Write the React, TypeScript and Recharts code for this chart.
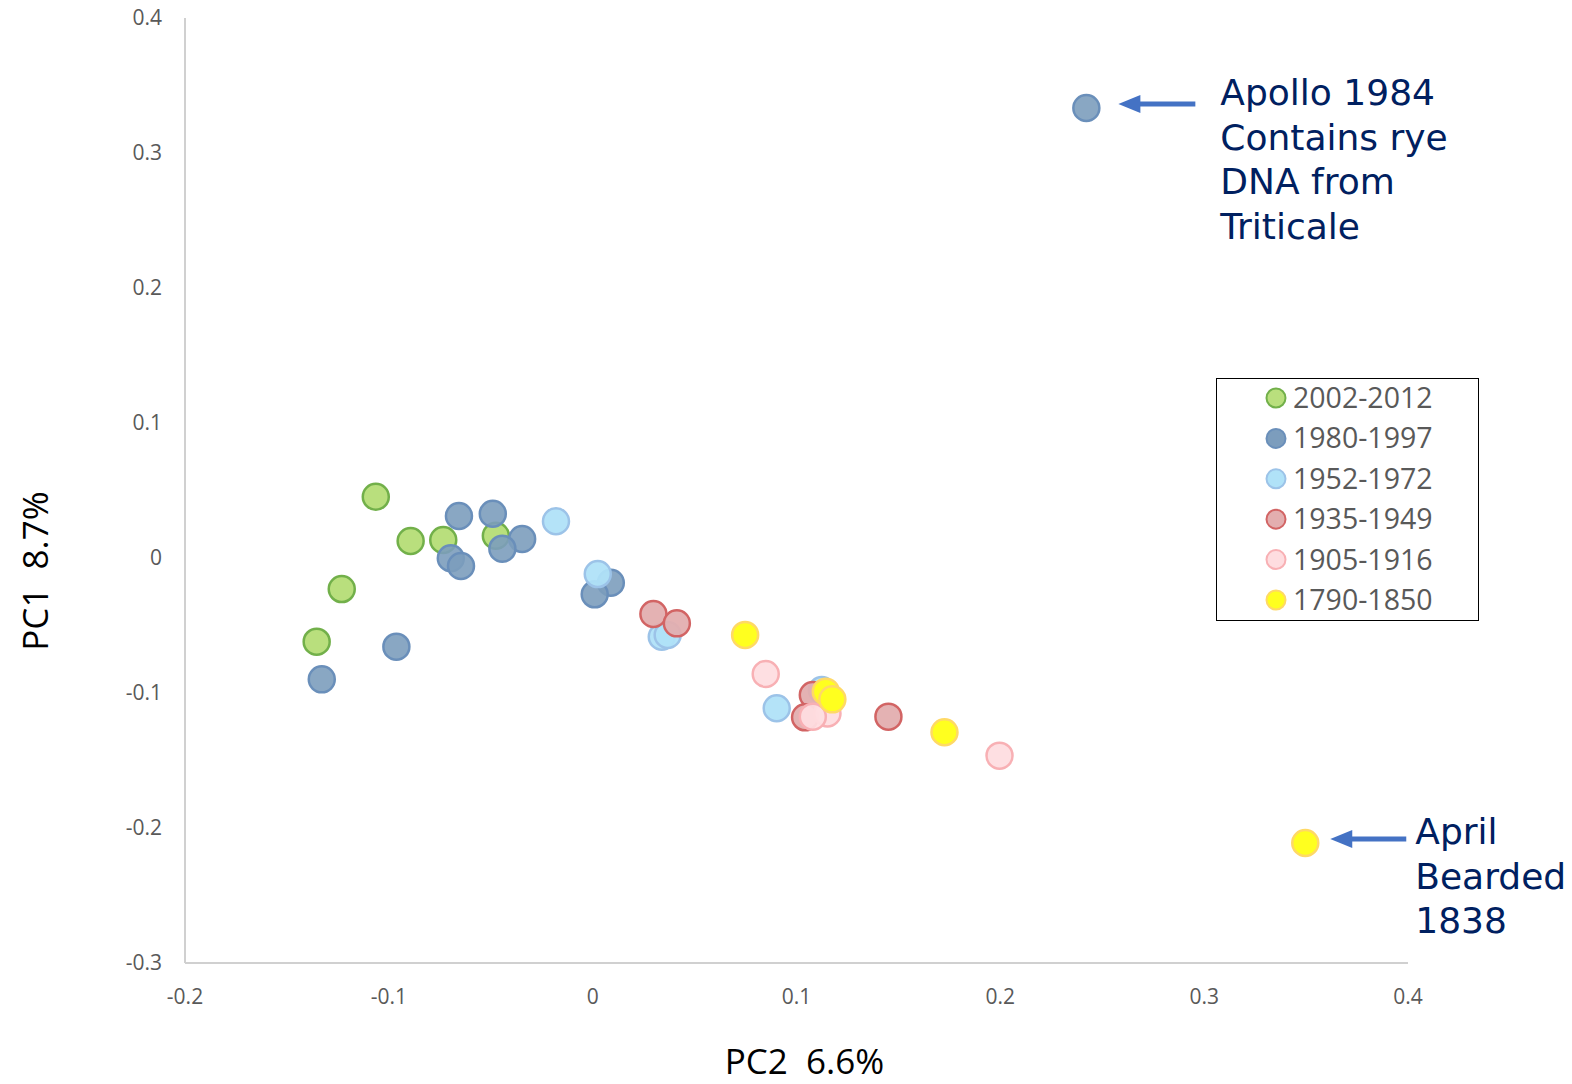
import { ScatterChart, Scatter, XAxis, YAxis, Legend, ReferenceDot } from 'recharts'

// PC2 (x) / PC1 (y) scores, one list per period
const P2002_2012: [number, number][] = [
  [-0.1064, 0.0454], [-0.0893, 0.0126], [-0.0733, 0.0133],
  [-0.0475, 0.0165], [-0.1231, -0.023], [-0.1354, -0.062],
]
const P1980_1997: [number, number][] = [
  [-0.0656, 0.0311], [-0.049, 0.0328], [-0.0346, 0.0141], [-0.0443, 0.0069],
  [-0.0696, -0.0002], [-0.0646, -0.0059], [0.0089, -0.0183], [0.001, -0.0269],
  [-0.0963, -0.0657], [-0.1329, -0.0899], [0.2422, 0.3333],
]
const P1952_1972: [number, number][] = [
  [-0.018, 0.0272], [0.0025, -0.0119], [0.0339, -0.0583], [0.0368, -0.057],
  [0.0903, -0.1113], [0.1124, -0.0978],
]
const P1935_1949: [number, number][] = [
  [0.0298, -0.0415], [0.0413, -0.0484], [0.108, -0.1015], [0.1042, -0.118],
  [0.1451, -0.1175],
]
const P1905_1916: [number, number][] = [
  [0.0849, -0.0859], [0.1152, -0.1151], [0.108, -0.1175], [0.1996, -0.1464],
]
const P1790_1850: [number, number][] = [
  [0.0748, -0.057], [0.1144, -0.099], [0.1176, -0.1047], [0.1726, -0.1291],
  [0.3496, -0.2111],
]

const X_TICKS = [-0.2, -0.1, 0, 0.1, 0.2, 0.3, 0.4]
const Y_TICKS = [-0.3, -0.2, -0.1, 0, 0.1, 0.2, 0.3, 0.4]

const APOLLO = { x: 0.2422, y: 0.3333, lines: ['Apollo 1984', 'Contains rye', 'DNA from', 'Triticale'] }
const APRIL = { x: 0.3496, y: -0.2111, lines: ['April', 'Bearded', '1838'] }

const SERIES = [
  { name: '2002-2012', pts: P2002_2012, fill: '#b9df7d', stroke: '#72b04a', op: 1 },
  { name: '1980-1997', pts: P1980_1997, fill: '#7c9dbd', stroke: '#6a8fba', op: 0.9 },
  { name: '1952-1972', pts: P1952_1972, fill: '#b0e2f8', stroke: '#9cc3e8', op: 0.95 },
  { name: '1935-1949', pts: P1935_1949, fill: '#e3aeaf', stroke: '#d26464', op: 0.95 },
  { name: '1905-1916', pts: P1905_1916, fill: '#fedde0', stroke: '#f8b0b4', op: 0.95 },
  { name: '1790-1850', pts: P1790_1850, fill: '#ffff1f', stroke: '#ffd966', op: 1 },
]

const NAVY = '#002060'
const ARROW = '#4472c4'

function dot(fill: string, stroke: string, op: number) {
  return (p: any) => (
    <circle cx={p.cx} cy={p.cy} r={13} fill={fill} fillOpacity={op} stroke={stroke} strokeWidth={2.5} />
  )
}

// arrow pointing left at the dot, with a block of navy text to its right
function callout(lines: string[], tip: number, tail: number, dy: number, textX: number, firstDy: number) {
  return (p: any) => {
    const y = p.cy + dy
    const x0 = p.cx + tip
    return (
      <g>
        <line x1={x0 + 18} y1={y} x2={p.cx + tail} y2={y} stroke={ARROW} strokeWidth={5} />
        <path d={`M${x0},${y} L${x0 + 22},${y - 9} L${x0 + 22},${y + 9} Z`} fill={ARROW} />
        <text fontFamily="DejaVu Sans" fontSize={36} fill={NAVY}>
          {lines.map((l, i) => (
            <tspan key={i} x={p.cx + textX} y={p.cy + firstDy + i * 44.7 + 13}>{l}</tspan>
          ))}
        </text>
      </g>
    )
  }
}

function LegendBox({ payload }: any) {
  const items = SERIES.filter((s) => (payload || []).some((e: any) => e.value === s.name))
  return (
    <div style={{
      width: 263, height: 243, boxSizing: 'border-box', border: '1.5px solid #000',
      background: '#fff',
    }}>
      <svg width={260} height={240}>
        {items.map((s, i) => {
          const cy = 19 + i * 40.4
          return (
            <g key={s.name}>
              <circle cx={59} cy={cy} r={9.5} fill={s.fill} stroke={s.stroke} strokeWidth={2} />
              <text x={76} y={cy + 10} fontFamily="Open Sans" fontSize={28.5} fill="#595959">{s.name}</text>
            </g>
          )
        })}
      </svg>
    </div>
  )
}

function XTitle({ viewBox }: any) {
  const cx = viewBox.x + viewBox.width / 2 + 8
  return (
    <text x={cx} y={viewBox.y + 111} textAnchor="middle" fontFamily="Open Sans" fontSize={35} fill="#000">
      {'PC2\u00a0 6.6%'}
    </text>
  )
}

function YTitle({ viewBox }: any) {
  const cx = viewBox.x + 48
  const cy = viewBox.y + 553
  return (
    <text x={cx} y={cy} transform={`rotate(-90 ${cx} ${cy})`} textAnchor="middle"
      fontFamily="Open Sans" fontSize={35} fill="#000">
      {'PC1\u00a0 8.7%'}
    </text>
  )
}

const tickStyle = { fill: '#595959', fontSize: 21, fontFamily: 'Open Sans' }

export default function App() {
  return (
    <div style={{ position: 'absolute', left: 0, top: 0, background: '#fff' }}>
      <ScatterChart width={1572} height={1084} margin={{ top: 18, right: 164, bottom: 0, left: 0 }}>
        <XAxis
          type="number"
          dataKey="x"
          domain={[-0.2, 0.4]}
          ticks={X_TICKS}
          height={121}
          axisLine={{ stroke: '#d0d0d0', strokeWidth: 2 }}
          tickLine={false}
          tickSize={6}
          tickMargin={20}
          tick={tickStyle}
          label={<XTitle />}
        />
        <YAxis
          type="number"
          dataKey="y"
          domain={[-0.3, 0.4]}
          ticks={Y_TICKS}
          width={185}
          axisLine={{ stroke: '#d0d0d0', strokeWidth: 2 }}
          tickLine={false}
          tickSize={6}
          tickMargin={17}
          tick={tickStyle}
          label={<YTitle />}
        />
        {SERIES.map((s) => (
          <Scatter
            key={s.name}
            name={s.name}
            data={s.pts.map(([x, y]) => ({ x, y }))}
            fill={s.fill}
            stroke={s.stroke}
            shape={dot(s.fill, s.stroke, s.op)}
            isAnimationActive={false}
          />
        ))}
        <ReferenceDot x={APOLLO.x} y={APOLLO.y} r={0} shape={callout(APOLLO.lines, 32, 109, -4, 134, -16)} />
        <ReferenceDot x={APRIL.x} y={APRIL.y} r={0} shape={callout(APRIL.lines, 25, 101, -4, 110, -12)} />
        <Legend
          layout="horizontal"
          verticalAlign="middle"
          content={<LegendBox />}
          wrapperStyle={{ left: 1216, top: 378, width: 263, height: 243 }}
        />
      </ScatterChart>
    </div>
  )
}
